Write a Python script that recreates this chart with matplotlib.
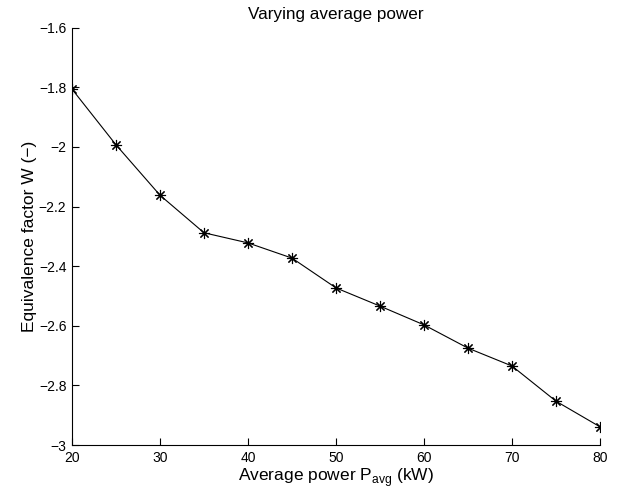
import matplotlib
matplotlib.use("Agg")
import matplotlib.pyplot as plt

plt.rcParams['font.family'] = ['Liberation Sans', 'DejaVu Sans']

power = [20, 25, 30, 35, 40, 45, 50, 55, 60, 65, 70, 75, 80]
factor = [-1.806, -1.993, -2.162, -2.288, -2.322, -2.373, -2.473,
          -2.534, -2.597, -2.675, -2.735, -2.853, -2.939]
xticks = [20, 30, 40, 50, 60, 70, 80]
yticks = [-3, -2.8, -2.6, -2.4, -2.2, -2, -1.8, -1.6]
ytick_labels = ['\u22123', '\u22122.8', '\u22122.6', '\u22122.4', '\u22122.2',
                '\u22122', '\u22121.8', '\u22121.6']

fig = plt.figure(figsize=(6.32, 4.93), dpi=100)
ax = fig.add_axes([72/632, 48/493, 528/632, (445-27.7)/493])

ax.plot(power, factor, color='black', linewidth=0.8, marker=(8, 2, 0),
        markersize=8, markeredgewidth=0.8)

ax.set_xlim(20, 80)
ax.set_ylim(-3, -1.6)
ax.set_xticks(xticks)
ax.set_xticklabels([str(v) for v in xticks])
ax.set_yticks(yticks)
ax.set_yticklabels(ytick_labels)

for s in ['top', 'right']:
    ax.spines[s].set_visible(False)
for s in ['left', 'bottom']:
    ax.spines[s].set_linewidth(0.8)

ax.tick_params(direction='in', length=5, width=0.8, labelsize=10, pad=4)

ax.set_title('Varying average power', fontsize=12.3, pad=6)
ax.set_xlabel('Average power P$_{\\mathregular{avg}}$ (kW)', fontsize=12.5, labelpad=1)
ax.set_ylabel('Equivalence factor W (\u2212)', fontsize=12.5, labelpad=1)

fig.savefig('out.png', dpi=100)
